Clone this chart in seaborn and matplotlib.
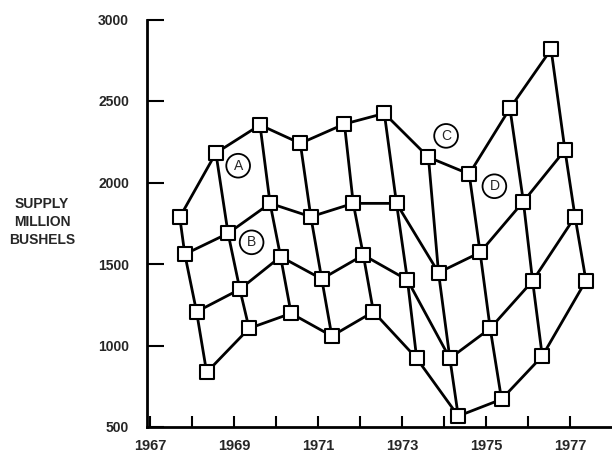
import matplotlib
matplotlib.use("Agg")
import matplotlib.pyplot as plt
import seaborn as sns
import pandas as pd
import numpy as np

# Quarterly supply (million bushels); each marketing year has four quarterly points
q1_x = [1967.71, 1968.57, 1969.62, 1970.58, 1971.63, 1972.58, 1973.63, 1974.60, 1975.57, 1976.55]
q1_y = [1787, 2181, 2353, 2240, 2359, 2424, 2155, 2052, 2455, 2817]
q2_x = [1967.83, 1968.86, 1969.86, 1970.83, 1971.84, 1972.87, 1973.87, 1974.86, 1975.89, 1976.88]
q2_y = [1560, 1688, 1872, 1790, 1872, 1872, 1447, 1571, 1883, 2199]
q3_x = [1968.11, 1969.14, 1970.11, 1971.09, 1972.08, 1973.13, 1974.14, 1975.10, 1976.11, 1977.12]
q3_y = [1207, 1345, 1545, 1408, 1555, 1402, 921, 1105, 1396, 1790]
q4_x = [1968.35, 1969.36, 1970.36, 1971.33, 1972.32, 1973.35, 1974.34, 1975.37, 1976.34, 1977.38]
q4_y = [835, 1105, 1197, 1058, 1207, 921, 567, 670, 935, 1398]

labels = ["A", "B", "C", "D"]
label_x = [1969.10, 1969.42, 1974.05, 1975.20]
label_y = [2103, 1633, 2286, 1977]

x_ticks_major = [1967, 1969, 1971, 1973, 1975, 1977]
x_ticks_minor = [1968, 1970, 1972, 1974, 1976]
y_ticks = [500, 1000, 1500, 2000, 2500, 3000]

rows = []
for q, (xs, ys) in enumerate([(q1_x, q1_y), (q2_x, q2_y), (q3_x, q3_y), (q4_x, q4_y)]):
    for yr, (xv, yv) in enumerate(zip(xs, ys)):
        rows.append({"year": yr, "quarter": q, "x": xv, "supply": yv})
df = pd.DataFrame(rows)

sns.set_style("white")
plt.rcParams["font.family"] = ["Liberation Sans", "DejaVu Sans"]

fig = plt.figure(figsize=(6.12, 4.57), dpi=100)
ax = fig.add_axes([147 / 612, 1 - 427 / 457, 1 - 147 / 612, (427 - 19.5) / 457])

lw = 2.0
# quarter lines across years
sns.lineplot(data=df.sort_values(["quarter", "year"]), x="x", y="supply", units="quarter",
             estimator=None, sort=False, color="black", lw=lw, ax=ax, legend=False)
# within-year chains
sns.lineplot(data=df.sort_values(["year", "quarter"]), x="x", y="supply", units="year",
             estimator=None, sort=False, color="black", lw=lw, ax=ax, legend=False)
sns.scatterplot(data=df, x="x", y="supply", marker="s", s=90, facecolor="white",
                edgecolor="black", linewidth=1.5, ax=ax, zorder=5, legend=False)

for t, xv, yv in zip(labels, label_x, label_y):
    ax.text(xv, yv, t, ha="center", va="center", fontsize=10, zorder=6,
            bbox=dict(boxstyle="circle,pad=0.35", fc="white", ec="black", lw=1.3))

ax.set_xlim(1966.93, 1978.0)
ax.set_ylim(500, 3000)
ax.set_xticks(x_ticks_major)
ax.set_xticks(x_ticks_minor, minor=True)
ax.set_xticklabels([str(v) for v in x_ticks_major], fontsize=10.5, fontweight="bold")
ax.set_yticks(y_ticks)
ax.set_yticklabels([str(v) for v in y_ticks], fontsize=10, fontweight="bold")
ax.tick_params(axis="x", which="both", direction="in", length=8, width=1.5, pad=9,
               bottom=True, color="black")
ax.tick_params(axis="y", which="both", direction="in", length=12, width=1.5, pad=13,
               left=True, color="black")
ax.set_xlabel("")
ax.set_ylabel("")
for s in ["top", "right"]:
    ax.spines[s].set_visible(False)
for s in ["left", "bottom"]:
    ax.spines[s].set_linewidth(2)
    ax.spines[s].set_color("black")

fig.text(42 / 612, 1 - 222 / 457, "SUPPLY\nMILLION\nBUSHELS", ha="center", va="center",
         fontsize=10, fontweight="bold", linespacing=1.35)

fig.savefig("out.png", dpi=100)
